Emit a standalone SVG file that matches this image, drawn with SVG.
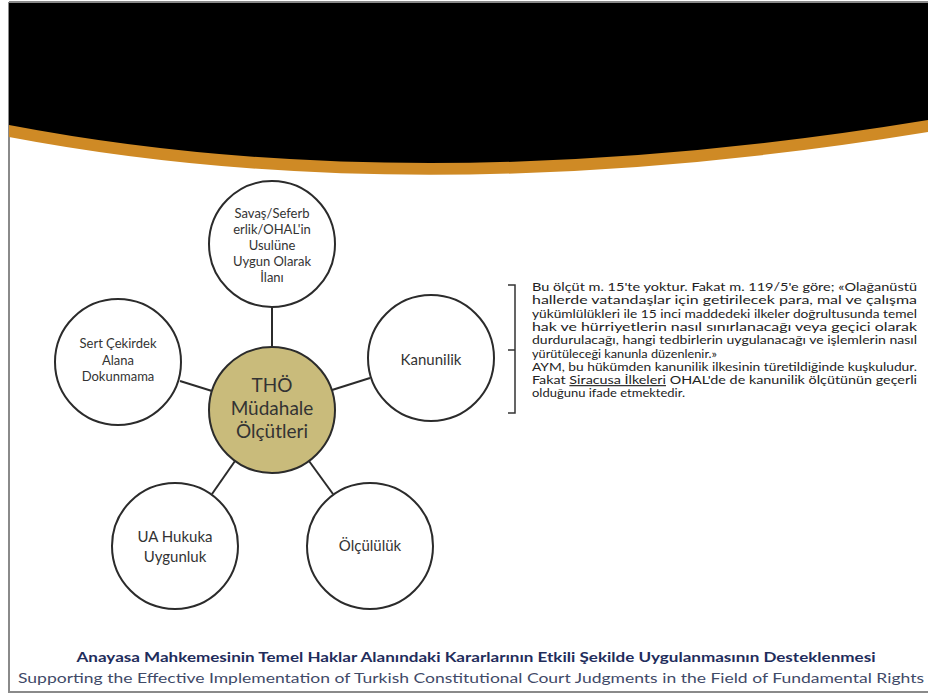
<svg xmlns="http://www.w3.org/2000/svg" width="928" height="697" viewBox="0 0 928 697">
<defs>
<style>
.nd{fill:#ffffff;stroke:#2b2b2b;stroke-width:2}
.ct{fill:#c9bb7b;stroke:#2b2b2b;stroke-width:2}
.lbl{font-family:Lato,"Open Sans",sans-serif;fill:#333333;text-anchor:middle}
.s13{font-size:13px}
.s15{font-size:15px}
.s19{font-size:19px}
.cn{stroke:#2b2b2b;stroke-width:2;fill:none}
.par{font-family:Lato,"Open Sans",sans-serif;font-size:11.5px;fill:#222222}
</style>
</defs>
<rect x="0" y="0" width="928" height="697" fill="#ffffff"/>
<!-- frame -->
<path d="M9,2 H928 M9,2 V692 H928" fill="none" stroke="#8a8a8a" stroke-width="2"/>
<!-- header band -->
<path d="M9,3 H928 V132 Q419.5,215 9,137 Z" fill="#cf8a25"/>
<path d="M9,3 H928 V120 Q419.5,203.5 9,125 Z" fill="#000000"/>

<g id="connectors">
<line class="cn" x1="272" y1="347" x2="272" y2="307"/>
<line class="cn" x1="212" y1="391" x2="180" y2="381"/>
<line class="cn" x1="332" y1="390" x2="370" y2="378"/>
<line class="cn" x1="235" y1="461" x2="212" y2="494"/>
<line class="cn" x1="309" y1="461" x2="333" y2="494"/>
</g>

<g id="node-top">
<circle class="nd" cx="272" cy="244" r="63"/>
<text class="lbl s13" x="272" y="218">Savaş/Seferb</text>
<text class="lbl s13" x="272" y="234">erlik/OHAL'in</text>
<text class="lbl s13" x="272" y="250">Usulüne</text>
<text class="lbl s13" x="272" y="266">Uygun Olarak</text>
<text class="lbl s13" x="272" y="282">İlanı</text>
</g>

<g id="node-left">
<circle class="nd" cx="118" cy="362" r="63"/>
<text class="lbl s13" x="118" y="348">Sert Çekirdek</text>
<text class="lbl s13" x="118" y="365">Alana</text>
<text class="lbl s13" x="118" y="381">Dokunmama</text>
</g>

<g id="node-right">
<circle class="nd" cx="431" cy="358" r="63"/>
<text class="lbl s15" x="431" y="365">Kanunilik</text>
</g>

<g id="node-ua">
<circle class="nd" cx="175" cy="546" r="63"/>
<text class="lbl s15" x="175" y="542">UA Hukuka</text>
<text class="lbl s15" x="175" y="562">Uygunluk</text>
</g>

<g id="node-olc">
<circle class="nd" cx="370" cy="546" r="63"/>
<text class="lbl s15" x="370" y="551">Ölçülülük</text>
</g>

<g id="node-center">
<circle class="ct" cx="272" cy="410" r="63"/>
<text class="lbl s19" x="272" y="392">THÖ</text>
<text class="lbl s19" x="272" y="415">Müdahale</text>
<text class="lbl s19" x="272" y="438">Ölçütleri</text>
</g>

<g id="note">
<path d="M508,285 H515 V413 H508 M515,350 H508" fill="none" stroke="#333333" stroke-width="1.5"/>
<text class="par" x="532" y="291" textLength="385" lengthAdjust="spacingAndGlyphs">Bu ölçüt m. 15'te yoktur. Fakat m. 119/5'e göre; «Olağanüstü</text>
<text class="par" x="532" y="304.3" textLength="385" lengthAdjust="spacingAndGlyphs">hallerde vatandaşlar için getirilecek para, mal ve çalışma</text>
<text class="par" x="532" y="317.6" textLength="385" lengthAdjust="spacingAndGlyphs">yükümlülükleri ile 15 inci maddedeki ilkeler doğrultusunda temel</text>
<text class="par" x="532" y="330.9" textLength="385" lengthAdjust="spacingAndGlyphs">hak ve hürriyetlerin nasıl sınırlanacağı veya geçici olarak</text>
<text class="par" x="532" y="344.2" textLength="385" lengthAdjust="spacingAndGlyphs">durdurulacağı, hangi tedbirlerin uygulanacağı ve işlemlerin nasıl</text>
<text class="par" x="532" y="357.5" textLength="185" lengthAdjust="spacingAndGlyphs">yürütüleceği kanunla düzenlenir.»</text>
<text class="par" x="532" y="370.8" textLength="385" lengthAdjust="spacingAndGlyphs">AYM, bu hükümden kanunilik ilkesinin türetildiğinde kuşkuludur.</text>
<text class="par" x="532" y="384.1" textLength="385" lengthAdjust="spacingAndGlyphs">Fakat <tspan text-decoration="underline">Siracusa İlkeleri</tspan> OHAL'de de kanunilik ölçütünün geçerli</text>
<text class="par" x="532" y="397.4" textLength="153" lengthAdjust="spacingAndGlyphs">olduğunu ifade etmektedir.</text>
</g>

<g id="footer">
<text x="476" y="662" text-anchor="middle" textLength="799" lengthAdjust="spacingAndGlyphs" font-family="Lato,'Open Sans',sans-serif" font-size="13.5" font-weight="bold" fill="#1f2d5c">Anayasa Mahkemesinin Temel Haklar Alanındaki Kararlarının Etkili Şekilde Uygulanmasının Desteklenmesi</text>
<text x="471" y="683" text-anchor="middle" textLength="906" lengthAdjust="spacingAndGlyphs" font-family="Lato,'Open Sans',sans-serif" font-size="14" fill="#3f4a68">Supporting the Effective Implementation of Turkish Constitutional Court Judgments in the Field of Fundamental Rights</text>
</g>
</svg>
